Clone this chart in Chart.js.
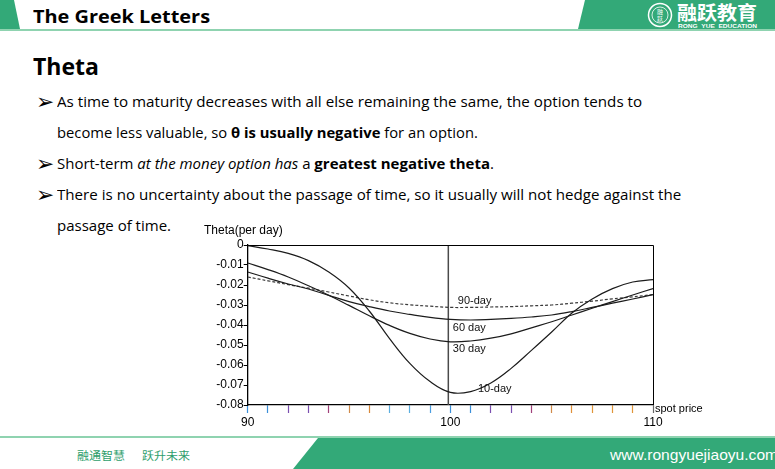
<!DOCTYPE html>
<html>
<head>
<meta charset="utf-8">
<title>The Greek Letters - Theta</title>
<script src="https://cdn.jsdelivr.net/npm/chart.js@4.4.1/dist/chart.umd.min.js"></script>
<style>
  html, body { margin: 0; padding: 0; background: #fff; }
  .slide { position: relative; width: 775px; height: 469px; overflow: hidden; background: #fff; font-family: 'Open Sans', sans-serif; color: #000; }
  .slide svg.bg { position: absolute; left: 0; top: 0; }
  .txt { position: absolute; white-space: nowrap; transform-origin: 0 50%; }
  .head-title { left: 33px; top: 4px; font-size: 18px; line-height: 24px; font-weight: 700; }
  .logo-cn { left: 677px; top: 0px; font-family: 'Noto Sans CJK SC', sans-serif; font-size: 19px; line-height: 24px; font-weight: 700; color: #fff; }
  .logo-en { left: 678px; top: 23px; font-family: 'Liberation Sans', sans-serif; font-size: 6px; line-height: 7px; font-weight: 700; color: #fff; }
  .heading { left: 33px; top: 51px; font-size: 24px; line-height: 30px; font-weight: 700; }
  .bullet { position: absolute; left: 36px; font-family: 'DejaVu Sans', sans-serif; font-size: 15px; line-height: 20px; transform: scale(1.45); transform-origin: 0 55%; }
  .line { left: 57px; font-size: 14px; line-height: 20px; }
  .foot-cn { top: 446px; font-family: 'Noto Sans CJK SC', sans-serif; font-size: 11.5px; line-height: 18px; color: #2e9e6c; }
  .foot-url { left: 610px; top: 445px; font-family: 'Liberation Sans', sans-serif; font-size: 15px; line-height: 20px; color: #fff; }
  #chartBox { position: absolute; left: 190px; top: 222px; width: 520px; height: 208px; }
</style>
</head>
<body>
<div class="slide">
  <svg class="bg" width="775" height="469">
    <polygon points="0,0 14,0 20,29 0,29" fill="#33a978"/>
    <polygon points="585,0 775,0 775,29 578,29" fill="#33a978"/>
    <rect x="0" y="29" width="775" height="2" fill="#8fd3b0"/>
    <circle cx="660" cy="15" r="11.5" fill="none" stroke="#fff" stroke-width="1.5"/>
    <circle cx="660" cy="15" r="8" fill="none" stroke="#fff" stroke-width="0.8"/>
    <text x="660" y="14" font-family="Noto Sans CJK SC" font-size="6" fill="#fff" text-anchor="middle">融</text>
    <text x="660" y="21" font-family="Noto Sans CJK SC" font-size="6" fill="#fff" text-anchor="middle">跃</text>
    <rect x="0" y="436" width="775" height="2" fill="#8fd3b0"/>
    <polygon points="318,438 775,438 775,469 293,469" fill="#33a978"/>
  </svg>

  <div class="txt head-title" data-w="177">The Greek Letters</div>
  <div class="txt logo-cn" data-w="80">融跃教育</div>
  <div class="txt logo-en" data-w="79">RONG&nbsp;&nbsp;YUE&nbsp;&nbsp;EDUCATION</div>

  <div class="txt heading" data-w="66">Theta</div>

  <div class="bullet" style="top:92px">&#10146;</div>
  <div class="txt line" style="top:92px" data-w="585">As time to maturity decreases with all else remaining the same, the option tends to</div>
  <div class="txt line" style="top:123px" data-w="421">become less valuable, so <b>θ is usually negative</b> for an option.</div>
  <div class="bullet" style="top:154px">&#10146;</div>
  <div class="txt line" style="top:154px" data-w="437">Short-term <i>at the money option has</i> a <b>greatest negative theta</b>.</div>
  <div class="bullet" style="top:185px">&#10146;</div>
  <div class="txt line" style="top:185px" data-w="624">There is no uncertainty about the passage of time, so it usually will not hedge against the</div>
  <div class="txt line" style="top:216px" data-w="114">passage of time.</div>

  <div class="txt foot-cn" style="left:77px" data-w="48">融通智慧</div>
  <div class="txt foot-cn" style="left:142px" data-w="48">跃升未来</div>
  <div class="txt foot-url" data-w="168">www.rongyuejiaoyu.com</div>

  <div id="chartBox"><canvas id="thetaChart" width="520" height="208"></canvas></div>
</div>

<script>
// spot price (x axis)
const spot = [90, 91, 92, 93, 94, 95, 96, 97, 98, 99, 100, 101, 102, 103, 104, 105, 106, 107, 108, 109, 110];

// theta per day
const theta10 = [-0.0003, -0.0020, -0.0042, -0.0078, -0.0135, -0.0215, -0.0330, -0.0468, -0.0592, -0.0683, -0.0737,
                 -0.0733, -0.0690, -0.0617, -0.0527, -0.0435, -0.0340, -0.0270, -0.0218, -0.0185, -0.0173];
const theta30 = [-0.0090, -0.0123, -0.0160, -0.0204, -0.0251, -0.0302, -0.0354, -0.0402, -0.0442, -0.0470, -0.0484,
                 -0.0480, -0.0466, -0.0444, -0.0414, -0.0384, -0.0350, -0.0316, -0.0283, -0.0250, -0.0218];
const theta60 = [-0.0135, -0.0166, -0.0195, -0.0220, -0.0252, -0.0283, -0.0308, -0.0330, -0.0347, -0.0362, -0.0372,
                 -0.0375, -0.0372, -0.0367, -0.0360, -0.0350, -0.0333, -0.0312, -0.0291, -0.0270, -0.0248];
const theta90 = [-0.0160, -0.0179, -0.0198, -0.0216, -0.0235, -0.0255, -0.0274, -0.0289, -0.0299, -0.0306, -0.0312,
                 -0.0312, -0.0310, -0.0308, -0.0304, -0.0300, -0.0291, -0.0281, -0.0269, -0.0259, -0.0248];

// at-the-money marker
const atmSpot = [99.9, 99.9];
const atmTheta = [0, -0.08];

// curve labels: text and where it sits (data units)
const curveLabels = ['90-day', '60 day', '30 day', '10-day'];
const labelSpot = [100.37, 100.12, 100.12, 101.36];
const labelTheta = [-0.0281, -0.0416, -0.0520, -0.0720];

// odd colored minor ticks under the x axis
const xTickColors = ['#3b8fd9', '#3b8fd9', '#7b4fb0', '#7b4fb0', '#a0407a', '#d08a4a', '#d8883a', '#5aaee0', '#5aaee0', '#4a9de0', '#3b8fd9',
                     '#3b8fd9', '#7b4fb0', '#7b4fb0', '#a0407a', '#d08a4a', '#e0903a', '#e0953a', '#e0953a', '#e0953a', '#666'];

const toPoints = (xs, ys) => xs.map((x, i) => ({ x: x, y: ys[i] }));

function curve(values, dashed) {
  return {
    data: toPoints(spot, values),
    borderColor: dashed ? '#3a3a3a' : '#1c1c1c',
    borderWidth: 1.2,
    borderDash: dashed ? [3, 2] : [],
    tension: 0.4,
    pointRadius: 0,
    fill: false
  };
}

// frame + texts that the slide draws around the plot
const decorations = {
  id: 'decorations',
  afterDatasetsDraw(chart) {
    const { ctx, chartArea: a, scales } = chart;
    ctx.save();
    ctx.strokeStyle = '#000';
    ctx.lineWidth = 1;
    ctx.beginPath();
    ctx.moveTo(a.left, a.top + 0.5);
    ctx.lineTo(a.right + 0.5, a.top + 0.5);
    ctx.lineTo(a.right + 0.5, a.bottom);
    ctx.stroke();

    ctx.fillStyle = '#111';
    ctx.font = '11px "Liberation Sans", Arial, sans-serif';
    ctx.textBaseline = 'middle';
    ctx.textAlign = 'left';
    curveLabels.forEach((t, i) => {
      ctx.fillText(t, scales.x.getPixelForValue(labelSpot[i]), scales.y.getPixelForValue(labelTheta[i]));
    });

    ctx.fillStyle = '#000';
    ctx.font = '12px "Liberation Sans", Arial, sans-serif';
    ctx.fillText('Theta(per day)', 14, 9);
    ctx.font = '11px "Liberation Sans", Arial, sans-serif';
    ctx.fillText('spot price', a.right + 2, a.bottom + 4);
    ctx.restore();
  }
};

new Chart(document.getElementById('thetaChart'), {
  type: 'line',
  data: {
    datasets: [
      curve(theta10, false),
      curve(theta30, false),
      curve(theta60, false),
      curve(theta90, true),
      {
        data: toPoints(atmSpot, atmTheta),
        borderColor: '#4a4a4a',
        borderWidth: 1.5,
        pointRadius: 0,
        fill: false
      }
    ]
  },
  options: {
    responsive: false,
    animation: false,
    layout: { padding: { top: 23, right: 57, left: 0, bottom: 0 } },
    plugins: { legend: { display: false }, tooltip: { enabled: false } },
    scales: {
      x: {
        type: 'linear',
        min: 90,
        max: 110,
        ticks: {
          stepSize: 1,
          autoSkip: false,
          maxRotation: 0,
          padding: 2,
          color: '#000',
          font: { family: 'Liberation Sans', size: 12 },
          callback: v => (v % 10 === 0 ? String(v) : '')
        },
        grid: {
          drawOnChartArea: false,
          tickLength: 8,
          tickWidth: 1.2,
          tickColor: c => xTickColors[c.index] || '#666'
        },
        border: { color: '#000', width: 1.3 },
        afterFit: s => { s.height = 25; }
      },
      y: {
        min: -0.08,
        max: 0,
        ticks: {
          stepSize: 0.01,
          padding: 0,
          color: '#000',
          font: { family: 'Liberation Sans', size: 12 },
          callback: v => (Math.abs(v) < 1e-9 ? '0' : v.toFixed(2))
        },
        grid: { drawOnChartArea: false, tickLength: 4, tickColor: '#000' },
        border: { color: '#000', width: 1.3 },
        afterFit: s => { s.width = 57.7; }
      }
    }
  },
  plugins: [decorations]
});

// squeeze slide texts to the widths they have in the original
document.querySelectorAll('.txt[data-w]').forEach(el => {
  const w = el.getBoundingClientRect().width;
  const target = parseFloat(el.dataset.w);
  if (w > 0) el.style.transform = 'scaleX(' + (target / w).toFixed(3) + ')';
});
</script>
</body>
</html>
